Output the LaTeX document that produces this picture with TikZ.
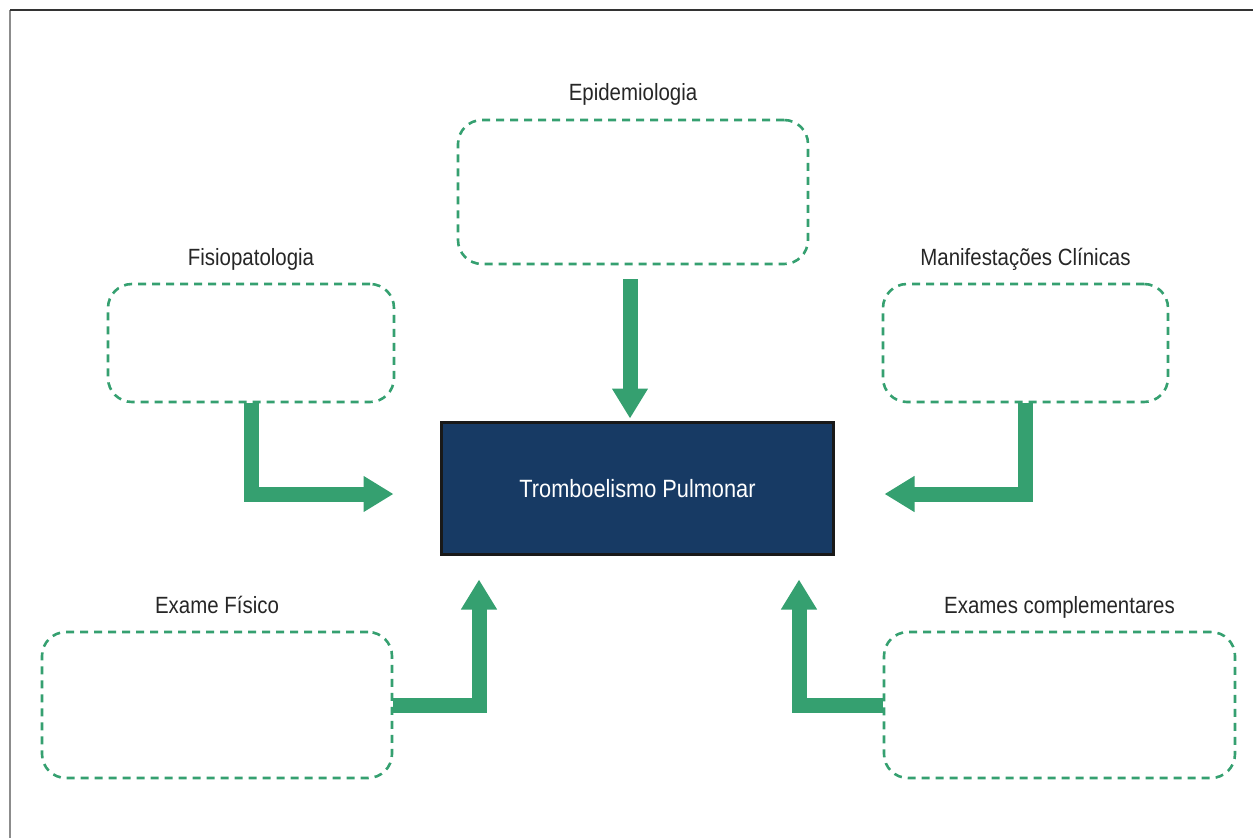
\documentclass[tikz,border=0pt]{standalone}
\usepackage{fontspec}
\setmainfont{Liberation Sans}[FakeStretch=0.87]
\usetikzlibrary{arrows.meta}
\definecolor{tepgreen}{RGB}{53,160,112}
\definecolor{tepblue}{RGB}{23,58,100}

\begin{document}
\begin{tikzpicture}[x=1pt,y=-1pt,
  topic/.style={draw=tepgreen, line width=2.6pt, dash pattern=on 8pt off 6pt,
    rounded corners=24pt, inner sep=0pt},
  caption/.style={anchor=base, text=black!85, font=\fontsize{23.5}{28}\selectfont},
  flow/.style={draw=tepgreen, line width=15pt, -{Triangle[width=34pt,length=30pt]}}]
\useasboundingbox (0,0) rectangle (1253,838);

% frame
\draw[line width=2pt, black!45] (10,838) -- (10,10);
\draw[line width=1.6pt, black!80] (10,10) -- (1253,10);

% central box
\node[draw=black!90, line width=3pt, fill=tepblue, minimum width=392pt, minimum height=132pt,
  text=white, font=\fontsize{25}{30}\selectfont] (tep) at (637.5,488.5) {Tromboelismo Pulmonar};

% topics
\node[topic, minimum width=350pt, minimum height=144pt] (epid) at (633,192) {};
\node[topic, minimum width=286pt, minimum height=118pt] (fisio) at (251,343) {};
\node[topic, minimum width=285pt, minimum height=118pt] (manif) at (1025.5,343) {};
\node[topic, minimum width=350pt, minimum height=146pt] (exame) at (217,705) {};
\node[topic, minimum width=351pt, minimum height=146pt] (compl) at (1059.5,705) {};

\node[caption] (epidlbl) at ([yshift=18pt]epid.north) {Epidemiologia};
\node[caption] (fisiolbl) at ([yshift=17pt]fisio.north) {Fisiopatologia};
\node[caption] (maniflbl) at ([yshift=17pt]manif.north) {Manifestações Clínicas};
\node[caption] (examelbl) at ([yshift=17pt]exame.north) {Exame Físico};
\node[caption] (compllbl) at ([yshift=17pt]compl.north) {Exames complementares};

% arrows
\draw[flow] ([yshift=-14pt,xshift=-3pt]epid.south) -- ([xshift=-7.5pt,yshift=2.5pt]tep.north);
\draw[flow] (fisio.south) |- ([xshift=-46.5pt,yshift=-5.5pt]tep.west);
\draw[flow] (manif.south) |- ([xshift=49.5pt,yshift=-5.5pt]tep.east);
\draw[flow] (exame.east) -| ([xshift=-158.5pt,yshift=-23.5pt]tep.south);
\draw[flow] (compl.west) -| ([xshift=161.5pt,yshift=-23.5pt]tep.south);
\end{tikzpicture}
\end{document}
